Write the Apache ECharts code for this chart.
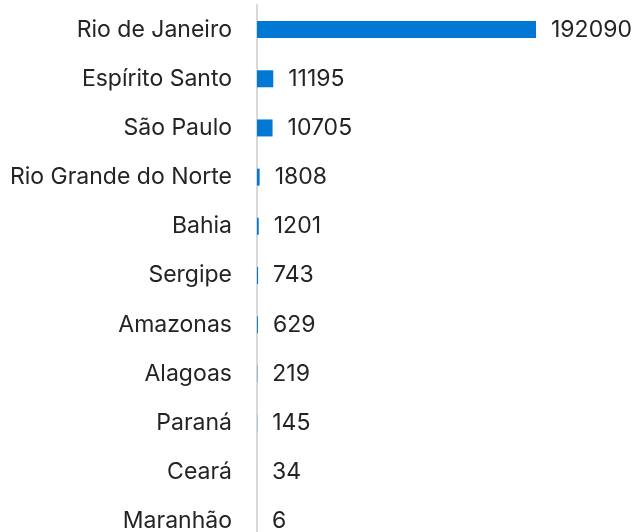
<!DOCTYPE html>
<html>
<head>
<meta charset="utf-8">
<script src="https://cdn.jsdelivr.net/npm/echarts@6/dist/echarts.min.js"></script>
<style>
  html, body { margin: 0; padding: 0; background: #fff; overflow: hidden; }
  #chart { width: 635px; height: 546px; }
</style>
</head>
<body>
<div id="chart"></div>
<script>
// dados
const estados = ['Rio de Janeiro', 'Espírito Santo', 'São Paulo', 'Rio Grande do Norte', 'Bahia',
  'Sergipe', 'Amazonas', 'Alagoas', 'Paraná', 'Ceará', 'Maranhão']
const valores = [192090, 11195, 10705, 1808, 1201, 743, 629, 219, 145, 34, 6]

const chart = echarts.init(document.getElementById('chart'))
const fonte = 'Inter, "Noto Sans", sans-serif'

chart.setOption({
  animation: false,
  grid: { left: 257, right: 99, top: 5, bottom: 0, containLabel: false },
  xAxis: {
    type: 'value',
    min: 0,
    max: 192090,
    show: false
  },
  yAxis: {
    type: 'category',
    inverse: true,
    data: estados,
    axisTick: { show: false },
    axisLine: { show: true, lineStyle: { color: '#d9d9d9', width: 2 } },
    axisLabel: { margin: 25, color: '#252423', fontSize: 23, fontFamily: fonte }
  },
  series: [{
    type: 'bar',
    data: valores,
    barWidth: 17,
    itemStyle: { color: '#0078d4' },
    label: {
      show: true,
      position: 'right',
      distance: 15,
      color: '#252423',
      fontSize: 23,
      fontFamily: fonte
    }
  }]
})
</script>
</body>
</html>
